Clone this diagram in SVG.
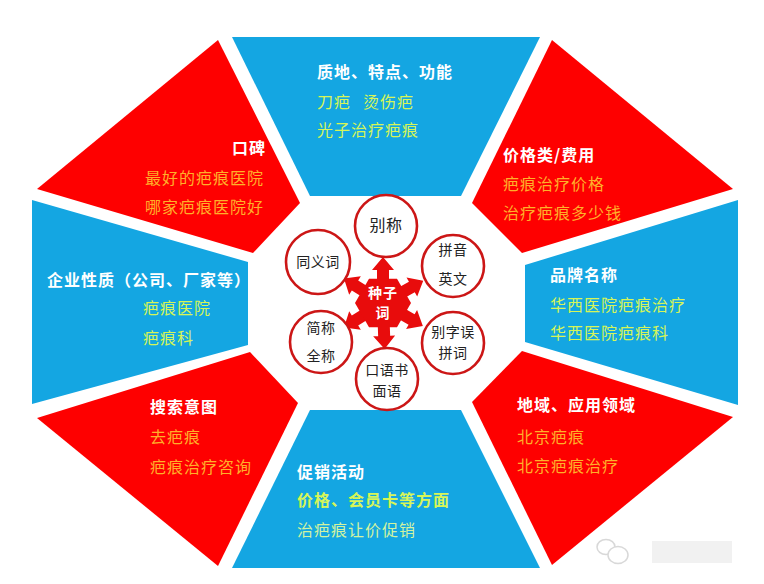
<svg xmlns="http://www.w3.org/2000/svg" width="764" height="584" viewBox="0 0 764 584">
<style>
.blue{fill:#14a6e2}
.red{fill:#fe0000}
text{font-family:"Noto Sans CJK SC","Noto Sans",sans-serif;font-size:16px;letter-spacing:1px}
.h{fill:#ffffff;font-weight:bold}
.o{fill:#ffb02a}
.g{fill:#d6f558}
.gb{fill:#d6f558;font-weight:bold}
.gl{fill:#d2f3a0}
.c{fill:#ffffff;stroke:#cc1616;stroke-width:2.6}
.ct{fill:#222222;font-size:14px;text-anchor:middle;letter-spacing:0.5px}
.st{fill:#ffffff;font-size:14px;font-weight:bold;text-anchor:middle}
</style>
<defs>
<path id="arr" d="M0,-6 L33,-6 L33,-11 L46,0 L33,11 L33,6 L0,6 Z" fill="#e80c0c"/>
</defs>
<rect width="764" height="584" fill="#ffffff"/>
<g id="seg-top">
<polygon class="blue" points="232,37 540,37 461,196 310,196"/>
<text class="h" x="317" y="78">质地、特点、功能</text>
<text class="g" x="317" y="108">刀疤</text>
<text class="g" x="363" y="108">烫伤疤</text>
<text class="g" x="317" y="136">光子治疗疤痕</text>
</g>
<g id="seg-top-right">
<polygon class="red" points="552,40 733,189 522,253 472,203"/>
<text class="h" x="503" y="161">价格类/费用</text>
<text class="o" x="503" y="190">疤痕治疗价格</text>
<text class="o" x="503" y="219">治疗疤痕多少钱</text>
</g>
<g id="seg-right">
<polygon class="blue" points="738,200 738,405 525,342 525,265"/>
<text class="h" x="550" y="281">品牌名称</text>
<text class="g" x="550" y="311">华西医院疤痕治疗</text>
<text class="g" x="550" y="339">华西医院疤痕科</text>
</g>
<g id="seg-bottom-right">
<polygon class="red" points="522,351 733,417 552,565 472,402"/>
<text class="h" x="517" y="411">地域、应用领域</text>
<text class="o" x="517" y="443">北京疤痕</text>
<text class="o" x="517" y="472">北京疤痕治疗</text>
</g>
<g id="seg-bottom">
<polygon class="blue" points="310,410 461,410 540,568 232,568"/>
<text class="h" x="297" y="478">促销活动</text>
<text class="gb" x="297" y="506">价格、会员卡等方面</text>
<text class="gl" x="297" y="536">治疤痕让价促销</text>
</g>
<g id="seg-bottom-left">
<polygon class="red" points="250,352 298,403 218,566 37,418"/>
<text class="h" x="150" y="413">搜索意图</text>
<text class="o" x="150" y="443">去疤痕</text>
<text class="o" x="150" y="473">疤痕治疗咨询</text>
</g>
<g id="seg-left">
<polygon class="blue" points="32,200 248,262 248,345 32,404"/>
<text class="h" x="47" y="286">企业性质（公司、厂家等）</text>
<text class="g" x="143" y="314">疤痕医院</text>
<text class="g" x="143" y="344">疤痕科</text>
</g>
<g id="seg-top-left">
<polygon class="red" points="218,40 300,203 253,253 37,189"/>
<text class="h" x="232" y="154">口碑</text>
<text class="o" x="145" y="184">最好的疤痕医院</text>
<text class="o" x="145" y="213">哪家疤痕医院好</text>
</g>
<g id="connectors">
<use href="#arr" transform="translate(383,303) rotate(-90)"/>
<use href="#arr" transform="translate(383,303) rotate(-148)"/>
<use href="#arr" transform="translate(383,303) rotate(-29)"/>
<use href="#arr" transform="translate(383,303) rotate(148)"/>
<use href="#arr" transform="translate(383,303) rotate(30)"/>
<use href="#arr" transform="translate(383,303) rotate(88)"/>
</g>
<g id="seed">
<polygon points="411,303 397,278.8 369,278.8 355,303 369,327.2 397,327.2" fill="#e80c0c"/>
<text class="st" x="383" y="298">种子</text>
<text class="st" x="383" y="318">词</text>
</g>
<g id="n-biecheng">
<circle class="c" cx="386" cy="226" r="31"/>
<text class="ct" x="386" y="231" style="font-size:16px">别称</text>
</g>
<g id="n-tongyici">
<circle class="c" cx="318" cy="262" r="32"/>
<text class="ct" x="318" y="267">同义词</text>
</g>
<g id="n-pinyin">
<circle class="c" cx="453" cy="266" r="31"/>
<text class="ct" x="453" y="255">拼音</text>
<text class="ct" x="453" y="284">英文</text>
</g>
<g id="n-jiancheng">
<circle class="c" cx="321" cy="342" r="31"/>
<text class="ct" x="321" y="333">简称</text>
<text class="ct" x="321" y="361">全称</text>
</g>
<g id="n-biezi">
<circle class="c" cx="453" cy="343" r="31"/>
<text class="ct" x="453" y="337">别字误</text>
<text class="ct" x="453" y="358">拼词</text>
</g>
<g id="n-kouyu">
<circle class="c" cx="387" cy="379" r="31"/>
<text class="ct" x="387" y="375">口语书</text>
<text class="ct" x="387" y="396">面语</text>
</g>
<g id="watermark" opacity="0.8">
<ellipse cx="606" cy="547" rx="9" ry="7.5" fill="none" stroke="#cfcfcf" stroke-width="1.5"/>
<ellipse cx="618" cy="555" rx="10" ry="8.5" fill="#ffffff" stroke="#cfcfcf" stroke-width="1.5"/>
<rect x="652" y="541" width="80" height="22" fill="#eeeeee"/>
</g>
</svg>
